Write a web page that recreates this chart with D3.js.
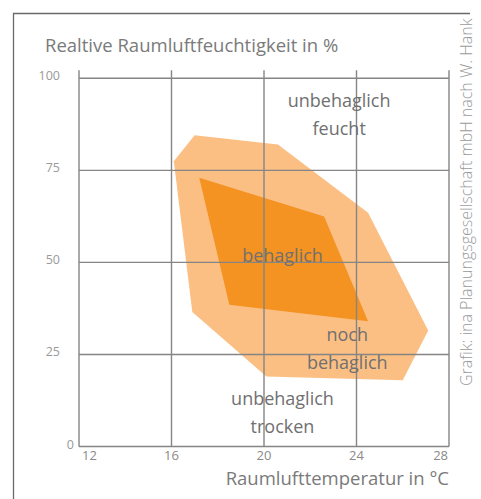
<!DOCTYPE html>
<html>
<head>
<meta charset="utf-8">
<script src="https://cdn.jsdelivr.net/npm/d3@7"></script>
<style>
  body { margin:0; background:#fff; }
  text { font-family:"Open Sans", "Noto Sans", sans-serif; }
</style>
</head>
<body>
<svg id="Vis" width="481" height="499"></svg>
<script>
// values
var xTicks = [12, 16, 20, 24, 28];
var yTicks = [0, 25, 50, 75, 100];

// "noch behaglich" zone (outer) and "behaglich" zone (inner), temp in C / rel. humidity in %
var outerTemp = [17.0, 20.6, 24.5, 27.1, 26.0, 20.1, 16.9, 16.1];
var outerHum  = [84.5, 82.0, 63.5, 31.5, 18.0, 19.0, 36.5, 77.5];
var innerTemp = [17.2, 22.6, 24.5, 18.5];
var innerHum  = [73.0, 62.5, 34.0, 38.5];

var zoneLabels = [["unbehaglich", "feucht"], ["behaglich"], ["noch", "behaglich"], ["unbehaglich", "trocken"]];
var zoneTemp   = [23.25, 20.8, 23.6, 20.8];
var zoneHum    = [92.3, 50.0, 28.6, 11.3];

var titleY = "Realtive Raumluftfeuchtigkeit in %";
var titleX = "Raumlufttemperatur in °C";
var credit = "Grafik: ina Planungsgesellschaft mbH nach W. Hank";

var svg = d3.select("#Vis");

var x = d3.scaleLinear().domain([12, 28]).range([79, 449]);
var y = d3.scaleLinear().domain([0, 100]).range([446.5, 78.3]);

// frame (top + left only)
svg.append("path")
   .attr("d", "M13.5,499 L13.5,13.5 L470,13.5")
   .attr("fill", "none")
   .attr("stroke", "#6a6a6a")
   .attr("stroke-width", 1.3);

// zones
var line = d3.line().x(function(d){ return x(d[0]); }).y(function(d){ return y(d[1]); }).curve(d3.curveLinearClosed);

svg.append("path")
   .datum(outerTemp.map(function(t,i){ return [t, outerHum[i]]; }))
   .attr("d", line)
   .attr("fill", "#fbbf84");

svg.append("path")
   .datum(innerTemp.map(function(t,i){ return [t, innerHum[i]]; }))
   .attr("d", line)
   .attr("fill", "#f49222");

// grid
var grid = svg.append("g").attr("stroke", "#858585").attr("stroke-width", 1.4);

grid.selectAll("line.v")
    .data(xTicks)
    .enter()
    .append("line")
    .attr("class", "v")
    .attr("x1", function(d){ return x(d); })
    .attr("x2", function(d){ return x(d); })
    .attr("y1", y(0))
    .attr("y2", y(100) - 8);

grid.selectAll("line.h")
    .data(yTicks)
    .enter()
    .append("line")
    .attr("class", "h")
    .attr("x1", x(12))
    .attr("x2", x(28))
    .attr("y1", function(d){ return y(d); })
    .attr("y2", function(d){ return y(d); });

// tick labels
svg.selectAll("text.ylab")
   .data(yTicks)
   .enter()
   .append("text")
   .attr("class", "ylab")
   .attr("x", function(d){ return d == 0 ? 74 : 60; })
   .attr("y", function(d){ return y(d) + 2; })
   .attr("text-anchor", "end")
   .attr("font-size", 12.5)
   .attr("fill", "#9a9a9a")
   .text(function(d){ return d; });

svg.selectAll("text.xlab")
   .data(xTicks)
   .enter()
   .append("text")
   .attr("class", "xlab")
   .attr("x", function(d,i){
       if(i == 0) return x(d) + 3;
       if(i == xTicks.length - 1) return x(d) - 1;
       return x(d);
   })
   .attr("y", y(0) + 13)
   .attr("text-anchor", function(d,i){
       if(i == 0) return "start";
       if(i == xTicks.length - 1) return "end";
       return "middle";
   })
   .attr("font-size", 13)
   .attr("fill", "#8a8a8a")
   .text(function(d){ return d; });

// zone labels
var zl = svg.selectAll("text.zone")
   .data(zoneLabels)
   .enter()
   .append("text")
   .attr("class", "zone")
   .attr("text-anchor", "middle")
   .attr("font-size", 18)
   .attr("fill", "#707070");

zl.selectAll("tspan")
  .data(function(d,i){ return d.map(function(s){ return {s:s, i:i}; }); })
  .enter()
  .append("tspan")
  .attr("x", function(d){ return x(zoneTemp[d.i]); })
  .attr("y", function(d,j){ return y(zoneHum[d.i]) + j*28; })
  .text(function(d){ return d.s; });

// titles
svg.append("text")
   .attr("x", 45)
   .attr("y", 52)
   .attr("font-size", 18.5)
   .attr("fill", "#7a7a7a")
   .text(titleY);

svg.append("text")
   .attr("x", 449)
   .attr("y", 485)
   .attr("text-anchor", "end")
   .attr("font-size", 18.5)
   .attr("fill", "#7a7a7a")
   .text(titleX);

svg.append("text")
   .attr("transform", "translate(472,386) rotate(-90)")
   .attr("font-size", 16)
   .attr("font-weight", 300)
   .attr("fill", "#9a9a9a")
   .text(credit);
</script>
</body>
</html>
